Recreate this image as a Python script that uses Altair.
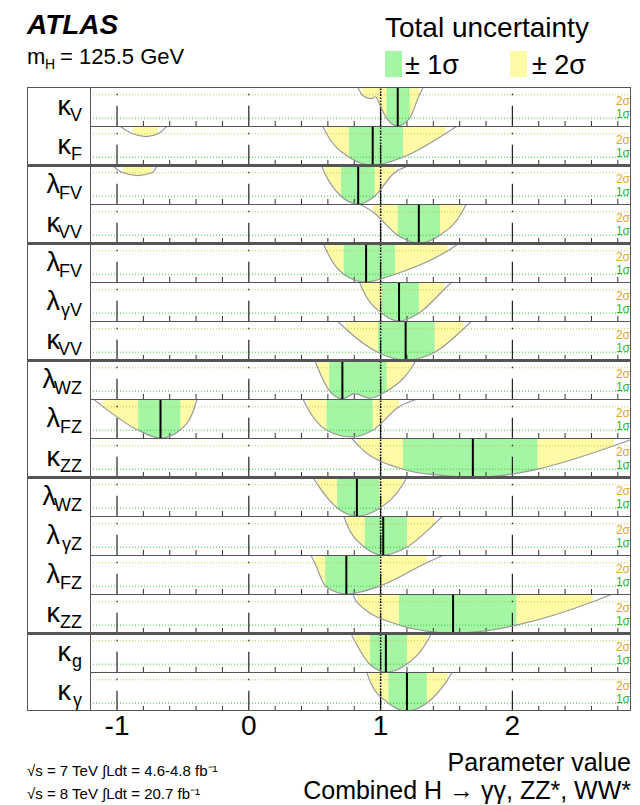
import altair as alt
import pandas as pd

FONT = "Liberation Sans"

# ---------------- data ----------------
LABEL_MAIN = ["κ", "κ", "λ", "κ", "λ", "λ", "κ", "λ", "λ", "κ", "λ", "λ", "λ", "κ", "κ", "κ"]
LABEL_SUB = ["V", "F", "FV", "VV", "FV", "γV", "VV", "WZ", "FZ", "ZZ", "WZ", "γZ", "FZ", "ZZ", "g", "γ"]
GROUP_SIZES = [2, 2, 3, 3, 4, 2]

BEST = [1.13, 0.94, 0.83, 1.29, 0.89, 1.14, 1.19, 0.71, -0.67, 1.70, 0.82, 1.02, 0.74, 1.55, 1.04, 1.20]

SIGMA1 = [
    [(1.045, 1.22)],
    [(0.76, 1.17)],
    [(0.70, 0.955)],
    [(1.13, 1.45)],
    [(0.72, 1.11)],
    [(1.01, 1.29)],
    [(0.98, 1.41)],
    [(0.61, 1.045)],
    [(-0.84, -0.52), (0.59, 0.94)],
    [(1.17, 2.19)],
    [(0.67, 0.99)],
    [(0.88, 1.20)],
    [(0.58, 0.99)],
    [(1.14, 2.03)],
    [(0.92, 1.20)],
    [(1.06, 1.35)],
]

SIGMA2 = [
    [(0.86, 1.295)],
    [(-0.88, -0.69), (0.59, 1.49)],
    [(-0.955, -0.735), (0.575, 1.105)],
    [(0.94, 1.62)],
    [(0.59, 1.51)],
    [(0.86, 1.48)],
    [(0.735, 1.63)],
    [(0.52, 1.235)],
    [(-1.105, -0.41), (0.44, 1.14)],
    [(0.83, 2.77)],
    [(0.52, 1.165)],
    [(0.74, 1.41)],
    [(0.50, 1.35)],
    [(0.82, 2.61)],
    [(0.80, 1.355)],
    [(0.915, 1.51)],
]

# -2 ln(Lambda) curves, (parameter value, -2lnL) points
CURVES = [
    [[(0.82, 5.2), (0.86, 4.0), (0.90, 3.6), (0.93, 3.5), (0.96, 3.75), (1.0, 2.5), (1.045, 1.0),
      (1.13, 0.0), (1.22, 1.0), (1.295, 4.0), (1.33, 5.2)]],
    [[(-0.98, 5.0), (-0.88, 4.0), (-0.78, 3.63), (-0.69, 4.0), (-0.62, 5.0)],
     [(0.56, 5.0), (0.59, 4.0), (0.76, 1.0), (0.94, 0.0), (1.17, 1.0), (1.49, 4.0), (1.58, 5.0)]],
    [[(-1.04, 5.0), (-0.955, 4.0), (-0.84, 3.65), (-0.735, 4.0), (-0.69, 5.0)],
     [(0.55, 5.0), (0.575, 4.0), (0.70, 1.0), (0.83, 0.0), (0.955, 1.0), (1.105, 4.0), (1.295, 5.2)]],
    [[(0.84, 5.0), (0.94, 4.0), (1.13, 1.0), (1.29, 0.0), (1.45, 1.0), (1.62, 4.0), (1.65, 5.0)]],
    [[(0.565, 5.0), (0.59, 4.0), (0.72, 1.0), (0.886, 0.0), (1.11, 1.0), (1.51, 4.0), (1.60, 5.0)]],
    [[(0.84, 5.0), (0.864, 4.0), (1.01, 1.0), (1.136, 0.0), (1.29, 1.0), (1.48, 4.0), (1.54, 5.0)]],
    [[(0.674, 5.0), (0.735, 4.0), (0.977, 1.0), (1.19, 0.0), (1.41, 1.0), (1.63, 4.0), (1.69, 5.0)]],
    [[(0.50, 5.0), (0.523, 4.0), (0.614, 1.0), (0.712, 0.0), (0.80, 0.7), (0.92, 0.1), (1.045, 1.0),
      (1.235, 4.0), (1.27, 5.0)]],
    [[(-1.18, 5.0), (-1.105, 4.0), (-0.84, 1.0), (-0.667, 0.0), (-0.523, 1.0), (-0.41, 4.0), (-0.394, 5.0)],
     [(0.41, 5.0), (0.44, 4.0), (0.59, 1.0), (0.78, 0.15), (0.94, 1.0), (1.14, 4.0), (1.28, 5.0)]],
    [[(0.78, 5.0), (0.833, 4.0), (1.167, 1.0), (1.44, 0.25), (1.705, 0.0), (1.95, 0.25), (2.19, 1.0),
      (2.77, 4.0), (2.92, 4.9)]],
    [[(0.485, 5.0), (0.523, 4.0), (0.674, 1.0), (0.818, 0.0), (0.992, 1.0), (1.167, 4.0), (1.20, 5.0)]],
    [[(0.72, 5.0), (0.742, 4.0), (0.879, 1.0), (1.015, 0.0), (1.197, 1.0), (1.41, 4.0), (1.47, 5.0)]],
    [[(0.47, 5.0), (0.50, 4.0), (0.583, 1.0), (0.742, 0.0), (0.992, 1.0), (1.35, 4.0), (1.48, 5.0)]],
    [[(0.79, 5.0), (0.818, 4.0), (1.144, 1.0), (1.35, 0.25), (1.545, 0.0), (1.78, 0.25), (2.03, 1.0),
      (2.61, 4.0), (2.76, 5.0)]],
    [[(0.773, 5.0), (0.803, 4.0), (0.917, 1.0), (1.045, 0.0), (1.197, 1.0), (1.356, 4.0), (1.386, 5.0)]],
    [[(0.895, 5.0), (0.915, 4.0), (1.06, 1.0), (1.197, 0.0), (1.348, 1.0), (1.508, 4.0), (1.545, 5.0)]],
]

MAJOR_TICKS = [-1, 0, 1, 2]
TICK_LABELS = ["-1", "0", "1", "2"]
MINOR_TICKS = [-0.8, -0.6, -0.4, -0.2, 0.2, 0.4, 0.6, 0.8, 1.2, 1.4, 1.6, 1.8, 2.2, 2.4, 2.6, 2.8]
SM_VALUE = 1.0
X_DOMAIN = [-1.205, 2.9]
Y_DOMAIN = [0, 5]
LEVEL_1S = 1
LEVEL_2S = 4

# ---------------- style ----------------
GREEN = "#a4f5a4"
YELLOW = "#fffaa6"
LINE_2S = "#cfc14a"
LINE_1S = "#33cc33"
TXT_2S = "#e2a62a"
TXT_1S = "#2fb52f"
CURVE_C = "#9a9a9a"
BORDER = "#555555"

W = 541
H = 39
LW = 63
TOTAL_W = LW + W
HEADER_H = 87

xs = alt.Scale(domain=X_DOMAIN, nice=False, zero=False)
ys = alt.Scale(domain=Y_DOMAIN, nice=False, zero=False)


def one(name, value):
    return pd.DataFrame({name: [value]})


def hline(y, x0, x1, width=1):
    return alt.Chart(one("s", 0)).mark_rule(color=BORDER, strokeWidth=width, clip=True).encode(
        x=alt.value(x0), x2=alt.value(x1), y=alt.value(y))


def vline(x, y0, y1):
    return alt.Chart(one("s", 0)).mark_rule(color=BORDER, strokeWidth=1, clip=True).encode(
        x=alt.value(x), y=alt.value(y0), y2=alt.value(y1))


def row_chart(i, thick_top, with_bottom):
    def X(f):
        return alt.X(f, scale=xs, axis=None)

    def Y0(v):
        return alt.YDatum(v, scale=ys, axis=None)

    curve = pd.DataFrame([{"x": x, "y": y, "seg": s}
                          for s, seg in enumerate(CURVES[i]) for x, y in seg])
    s1 = pd.DataFrame(SIGMA1[i], columns=["lo", "hi"])
    s2 = pd.DataFrame(SIGMA2[i], columns=["lo", "hi"])

    fill2 = alt.Chart(s2).mark_rect(color=YELLOW, clip=True).encode(
        x=X("lo:Q"), x2="hi:Q", y=Y0(Y_DOMAIN[0]), y2=alt.Y2Datum(Y_DOMAIN[1]))
    fill1 = alt.Chart(s1).mark_rect(color=GREEN, clip=True).encode(
        x=X("lo:Q"), x2="hi:Q", y=Y0(Y_DOMAIN[0]), y2=alt.Y2Datum(Y_DOMAIN[1]))
    mask = alt.Chart(curve).mark_area(color="white", interpolate="monotone", clip=True).encode(
        x=X("x:Q"), y=alt.Y("y:Q", scale=ys, axis=None), y2=alt.Y2Datum(0), detail="seg:N")
    l2 = alt.Chart(one("lvl", LEVEL_2S)).mark_rule(color=LINE_2S, strokeDash=[1, 2], strokeWidth=1,
                                                   clip=True).encode(
        y=alt.Y("lvl:Q", scale=ys, axis=None), x=alt.value(0), x2=alt.value(W))
    l1 = alt.Chart(one("lvl", LEVEL_1S)).mark_rule(color=LINE_1S, strokeDash=[1, 2], strokeWidth=1,
                                                   clip=True).encode(
        y=alt.Y("lvl:Q", scale=ys, axis=None), x=alt.value(0), x2=alt.value(W))
    minor = alt.Chart(pd.DataFrame({"t": MINOR_TICKS})).mark_rule(color="#333", strokeWidth=1,
                                                                  clip=True).encode(
        x=X("t:Q"), y=Y0(0), y2=alt.Y2Datum(0.65))
    major = alt.Chart(pd.DataFrame({"t": MAJOR_TICKS})).mark_rule(color="#222", strokeWidth=1.2,
                                                                  clip=True).encode(
        x=X("t:Q"), y=Y0(0), y2=alt.Y2Datum(2.6))
    major_dot = alt.Chart(pd.DataFrame({"t": MAJOR_TICKS})).mark_rule(color="#222", strokeWidth=1.2,
                                                                      clip=True).encode(
        x=X("t:Q"), y=Y0(3.95), y2=alt.Y2Datum(4.15))
    sm = alt.Chart(one("v", SM_VALUE)).mark_rule(color="black", strokeDash=[1.5, 1.5], strokeWidth=1.5,
                                                 clip=True).encode(
        x=X("v:Q"), y=Y0(0), y2=alt.Y2Datum(5))
    line = alt.Chart(curve).mark_line(color=CURVE_C, strokeWidth=1.2, interpolate="monotone", clip=True).encode(
        x=X("x:Q"), y=alt.Y("y:Q", scale=ys, axis=None), detail="seg:N")
    best = alt.Chart(one("b", BEST[i])).mark_rule(color="black", strokeWidth=2, clip=True).encode(
        x=X("b:Q"), y=Y0(0), y2=alt.Y2Datum(5))
    t2 = alt.Chart(one("t", "2σ")).mark_text(align="right", baseline="middle", fontSize=12, font=FONT,
                                              color=TXT_2S, clip=True).encode(
        x=alt.value(W - 1), y=alt.value(14), text="t:N")
    t1 = alt.Chart(one("t", "1σ")).mark_text(align="right", baseline="middle", fontSize=12, font=FONT,
                                              color=TXT_1S, clip=True).encode(
        x=alt.value(W - 1), y=alt.value(26.5), text="t:N")

    layers = [fill2, fill1, mask, l2, l1, minor, major, major_dot, sm, line, best, t2, t1,
              vline(0.5, 0, H), vline(W - 0.5, 0, H)]
    if thick_top:
        layers.append(hline(1, 0, W, 2))
    else:
        layers.append(hline(0.5, 0, W))
    if with_bottom:
        layers.append(hline(H - 0.5, 0, W))
    return alt.layer(*layers).properties(width=W, height=H)


def label_chart(start, n, thick_top):
    df = pd.DataFrame({"idx": list(range(n)),
                       "main": LABEL_MAIN[start:start + n],
                       "sub": LABEL_SUB[start:start + n]})
    base = alt.Chart(df).transform_calculate(
        mx="55 - 11*length(datum.sub) - (indexof(datum.sub, 'W') >= 0 ? 4 : 0)").encode(
        y=alt.Y("idx:O", axis=None, scale=alt.Scale(paddingInner=0, paddingOuter=0)))
    main = base.mark_text(align="right", baseline="alphabetic", fontSize=27, font=FONT, dy=8,
                          clip=True).encode(
        x=alt.X("mx:Q", scale=None, axis=None), text="main:N")
    sub = base.mark_text(align="right", baseline="alphabetic", fontSize=18, font=FONT, dy=14,
                         clip=True).encode(
        x=alt.value(55), text="sub:N")
    layers = [main, sub, vline(0.5, 0, n * H), hline(n * H - 0.5, 0, LW)]
    layers.append(hline(1, 0, LW, 2) if thick_top else hline(0.5, 0, LW))
    return alt.layer(*layers).properties(width=LW, height=n * H)


def txt(s, x, y, size, align="left", **kw):
    return alt.Chart(one("t", s)).mark_text(align=align, baseline="alphabetic", fontSize=size,
                                            font=FONT, color="black", **kw).encode(
        x=alt.value(x), y=alt.value(y), text="t:N")


def box(x0, x1, y0, y1, color):
    return alt.Chart(one("a", 0)).mark_rect(color=color).encode(
        x=alt.value(x0), x2=alt.value(x1), y=alt.value(y0), y2=alt.value(y1))


header = alt.layer(
    txt("ATLAS", 0, 34, 28, fontWeight="bold", fontStyle="italic"),
    txt("m", 0, 64, 22),
    txt("H", 18, 69, 14),
    txt("= 125.5 GeV", 33, 64, 22),
    txt("Total uncertainty", 358, 37, 28),
    box(358, 375, 51, 77, GREEN),
    txt("± 1σ", 378, 74, 27),
    box(483, 500, 51, 77, YELLOW),
    txt("± 2σ", 505, 74, 27),
).properties(width=TOTAL_W, height=HEADER_H)

# tick labels placed through the same x domain, mapped onto the plot columns
tick_df = pd.DataFrame({"t": MAJOR_TICKS, "lab": TICK_LABELS})
tick_labels = alt.Chart(tick_df).mark_text(baseline="alphabetic", fontSize=28, font=FONT,
                                           color="black").encode(
    x=alt.X("t:Q", scale=alt.Scale(domain=X_DOMAIN, range=[LW, TOTAL_W], nice=False, zero=False),
            axis=None),
    y=alt.value(24), text="lab:N")

footer = alt.layer(
    tick_labels,
    txt("√s = 7 TeV ∫Ldt = 4.6-4.8 fb⁻¹", 0, 65, 15),
    txt("√s = 8 TeV ∫Ldt = 20.7 fb⁻¹", 0, 88, 15),
    txt("Parameter value", TOTAL_W, 60, 25, align="right"),
    txt("Combined H → γγ, ZZ*, WW*", TOTAL_W, 88, 25, align="right"),
).properties(width=TOTAL_W, height=94)

groups = []
start = 0
for g, n in enumerate(GROUP_SIZES):
    rows = [row_chart(start + k, thick_top=(k == 0 and g > 0), with_bottom=(k == n - 1))
            for k in range(n)]
    groups.append(alt.hconcat(label_chart(start, n, thick_top=(g > 0)),
                              alt.vconcat(*rows, spacing=0), spacing=0))
    start += n

body = alt.vconcat(*groups, spacing=0)

chart = alt.vconcat(header, body, footer, spacing=0).properties(
    padding={"left": 27, "right": 9, "top": 0, "bottom": 0},
    background="white",
).configure_view(stroke="transparent", strokeWidth=0)

chart.save("out.html", embed_options={"renderer": "svg", "actions": False})
